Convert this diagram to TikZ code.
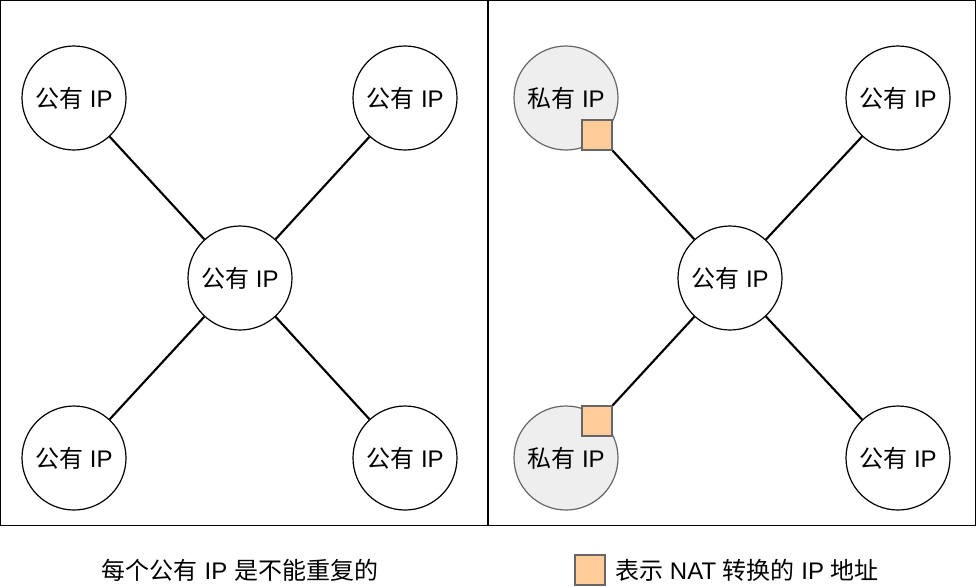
\documentclass[tikz,border=0pt]{standalone}
\usepackage{fontspec}
\setmainfont{Liberation Sans}
\newfontfamily\cjk{Noto Sans CJK SC}
\newcommand{\zh}[1]{{\cjk #1}}
\definecolor{privfill}{HTML}{EEEEEE}
\definecolor{bordergray}{HTML}{666666}
\definecolor{natfill}{HTML}{FFCC99}
\begin{document}
\begin{tikzpicture}[x=0.75pt,y=-0.75pt,
  ipnode/.style={circle,draw=black,line width=0.9pt,fill=white,minimum size=78pt,inner sep=0pt,font=\fontsize{18}{20}\selectfont},
  privnode/.style={ipnode,fill=privfill,draw=bordergray},
  natbox/.style={rectangle,draw=bordergray,line width=0.9pt,fill=natfill,minimum size=22.5pt,inner sep=0pt},
  link/.style={line width=1.6pt,draw=black},
  panel/.style={draw=black,line width=0.8pt},
  lbl/.style={font=\fontsize{18}{20}\selectfont,inner sep=0pt}]
\useasboundingbox (0,0) rectangle (977,587);
\node[panel,rectangle,minimum width=366pt,minimum height=393.75pt,inner sep=0pt] (lp) at (244.5,263) {};
\node[panel,rectangle,minimum width=366pt,minimum height=393.75pt,inner sep=0pt] (rp) at (731.5,263) {};
% left
\node[ipnode] (lc) at (240,278) {\zh{公有} IP};
\node[ipnode] (ltl) at (74,98) {\zh{公有} IP};
\node[ipnode] (ltr) at (405,98) {\zh{公有} IP};
\node[ipnode] (lbl) at (74,458) {\zh{公有} IP};
\node[ipnode] (lbr) at (405,458) {\zh{公有} IP};
\draw[link] (ltl) -- (lc);
\draw[link] (ltr) -- (lc);
\draw[link] (lbl) -- (lc);
\draw[link] (lbr) -- (lc);
% right
\node[ipnode] (rc) at (730,278) {\zh{公有} IP};
\node[privnode] (rtl) at (566,98) {\zh{私有} IP};
\node[ipnode] (rtr) at (898,98) {\zh{公有} IP};
\node[privnode] (rbl) at (566,458) {\zh{私有} IP};
\node[ipnode] (rbr) at (898,458) {\zh{公有} IP};
\node[natbox] (nt) at (597,135) {};
\node[natbox] (nb) at (597,421) {};
\draw[link] (nt.south east) -- (rc);
\draw[link] (nb.north east) -- (rc);
\draw[link] (rtr) -- (rc);
\draw[link] (rbr) -- (rc);
% legend
\node[lbl] (t1) at (240,570) {\zh{每个公有} IP \zh{是不能重复的}};
\node[natbox] (lg) at (590,570) {};
\node[lbl,anchor=west] (t2) at (615,570) {\zh{表示} NAT \zh{转换的} IP \zh{地址}};
\end{tikzpicture}
\end{document}
